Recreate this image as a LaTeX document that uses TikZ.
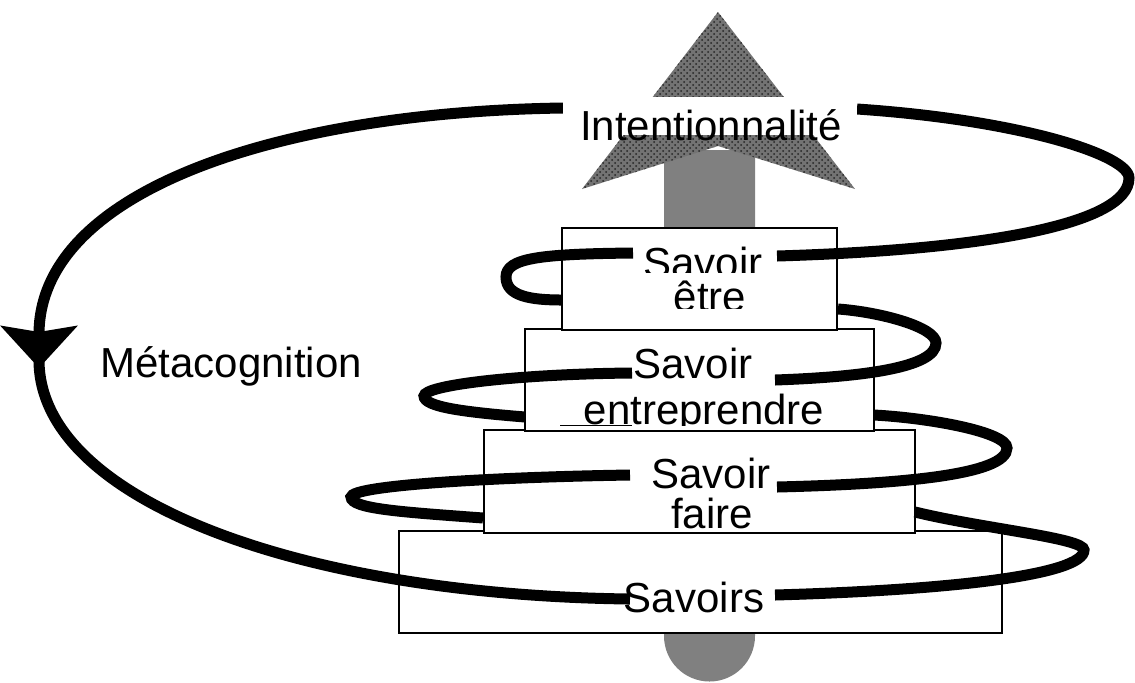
\documentclass[tikz,border=0pt]{standalone}
\usepackage{fontspec}
\setmainfont{Liberation Sans}
\usetikzlibrary{arrows.meta,patterns,positioning}

\begin{document}
\begin{tikzpicture}
		[x=0.5pt,y=-0.5pt,
		box/.style={shape=rectangle,draw,line width=1pt,fill=white,inner sep=0pt},
		word/.style={inner sep=0pt,anchor=base,font=\fontsize{21pt}{22pt}\selectfont},
		spiral/.style={line width=5.5pt}
		]
		
		\useasboundingbox (0,0) rectangle (1135,682);
		
		\fill[black!50] (664,150) -- (755,150) -- (755,636) arc[start angle=0,end angle=180,radius=45.5] -- cycle;
		\fill[black!55,postaction={pattern=crosshatch dots,pattern color=black!85}]
		(718,12) -- (855,189) -- (718,146) -- (582,189) -- cycle;
		
		\node [box,minimum width=301.5pt,minimum height=51pt] (savoirs) at (700.5,582) {};
		\node [box,minimum width=215.5pt,minimum height=51.5pt] (faire) at (699.5,481.5) {};
		\node [box,minimum width=174.5pt,minimum height=51pt] (entre) at (699.5,380) {};
		\node [box,minimum width=137.5pt,minimum height=51pt] (etre) at (699.5,279) {};
		
		\draw[spiral] (775,595) .. controls (950,590) and (1084,575) .. (1084,550)
		.. controls (1084,538) and (985,529) .. (915,512);
		\draw[spiral] (483,518) .. controls (403,512) and (351,509) .. (351,497)
		.. controls (351,485) and (500,477) .. (630,475);
		\draw[spiral] (777,487) .. controls (900,484) and (1007,475) .. (1007,448)
		.. controls (1007,432) and (930,418) .. (874,415);
		\draw[spiral] (525,417) .. controls (464,412) and (424,407) .. (424,396)
		.. controls (424,385) and (520,374) .. (632,373);
		\draw[spiral] (775,380) .. controls (860,377) and (936,368) .. (936,343)
		.. controls (936,327) and (880,312) .. (838,309);
		\draw[spiral] (562,300) .. controls (530,300) and (506,296) .. (506,277)
		.. controls (506,258) and (540,254) .. (633,253);
		\draw[spiral] (777,256) .. controls (980,250) and (1129,225) .. (1129,178)
		.. controls (1129,155) and (1020,120) .. (857,109);
		\draw[spiral,-{Stealth[length=21pt,width=38pt,inset=3pt]}] (563,108) .. controls (280,112) and (39,190) .. (39,368);
		\draw[spiral] (39,360) .. controls (39,500) and (300,595) .. (630,599);
		
		\node [fill=white,inner sep=0pt,minimum width=147pt,minimum height=19pt] (intbg) at (710,116) {};
		\node [word] (intent) at (711,140) {Intentionnalité};
		\node [word,anchor=base west] (meta) at (100,377) {Métacognition};
		
		\begin{scope}
			\clip (600,230) rectangle (800,272);
			\node [word] (etre1) at (703,277) {Savoir};
		\end{scope}
		\begin{scope}
			\clip (600,272) rectangle (800,308);
			\node [word] (etre2) at (710,311) {être};
		\end{scope}
		
		\node [word] (entre1) at (693,378) {Savoir};
		\begin{scope}
			\clip (560,380) rectangle (840,425);
			\node [word] (entre2) at (704,424) {entreprendre};
		\end{scope}
		\draw[line width=0.5pt] (560,425) -- (632,425);
		
		\node [word] (faire1) at (711,488) {Savoir};
		\node [word] (faire2) at (712,528) {faire};
		\node [word] (savoirs1) at (694,612) {Savoirs};
		
\end{tikzpicture}
\end{document}
